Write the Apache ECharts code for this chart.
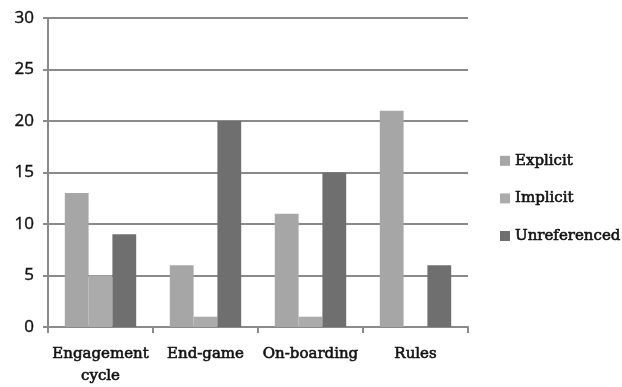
<!DOCTYPE html>
<html><head><meta charset="utf-8">
<script src="https://cdn.jsdelivr.net/npm/echarts@6/dist/echarts.min.js"></script>
<style>html,body{margin:0;padding:0;background:#fff}#c{width:622px;height:387px}</style>
</head><body><div id="c"></div>
<script>
var categories = ['Engagement\ncycle', 'End-game', 'On-boarding', 'Rules'];
var explicitVals = [13, 6, 11, 21];
var implicitVals = [5, 1, 1, 0];
var unrefVals = [9, 20, 15, 6];
var yTicks = [0, 5, 10, 15, 20, 25, 30];

var font = 'DejaVu Serif';
var chart = echarts.init(document.getElementById('c'));
chart.setOption({
  animation: false,
  backgroundColor: '#fff',
  grid: {left: 48, top: 18, right: 154, bottom: 60, containLabel: false},
  legend: {
    orient: 'vertical', left: 495, top: 148, itemGap: 22,
    itemWidth: 10, itemHeight: 10, icon: 'rect',
    textStyle: {fontFamily: font, fontSize: 15, color: '#111', textBorderColor: '#111', textBorderWidth: 0.6},
    data: ['Explicit', 'Implicit', 'Unreferenced']
  },
  xAxis: {
    type: 'category', data: categories,
    axisLine: {lineStyle: {color: '#8a8a8a', width: 2}},
    axisTick: {show: true, length: 6, lineStyle: {color: '#8a8a8a', width: 2}},
    axisLabel: {fontFamily: font, fontSize: 15, color: '#111', textBorderColor: '#111', textBorderWidth: 0.6, margin: 16, lineHeight: 22, interval: 0}
  },
  yAxis: {
    type: 'value', min: yTicks[0], max: yTicks[yTicks.length - 1], interval: 5,
    axisLine: {show: true, lineStyle: {color: '#8a8a8a', width: 2}},
    axisTick: {show: true, length: 5, lineStyle: {color: '#8a8a8a', width: 2}},
    splitLine: {lineStyle: {color: '#8a8a8a', width: 2}},
    axisLabel: {fontFamily: 'Open Sans', fontSize: 17, color: '#111', textBorderColor: '#111', textBorderWidth: 0.4, margin: 14}
  },
  series: [
    {name: 'Explicit', type: 'bar', data: explicitVals, barGap: '0%', barCategoryGap: '32%', itemStyle: {color: '#a6a6a6'}},
    {name: 'Implicit', type: 'bar', data: implicitVals, barGap: '0%', barCategoryGap: '32%', itemStyle: {color: '#ababab'}},
    {name: 'Unreferenced', type: 'bar', data: unrefVals, barGap: '0%', barCategoryGap: '32%', itemStyle: {color: '#6f6f6f'}}
  ]
});
</script></body></html>
